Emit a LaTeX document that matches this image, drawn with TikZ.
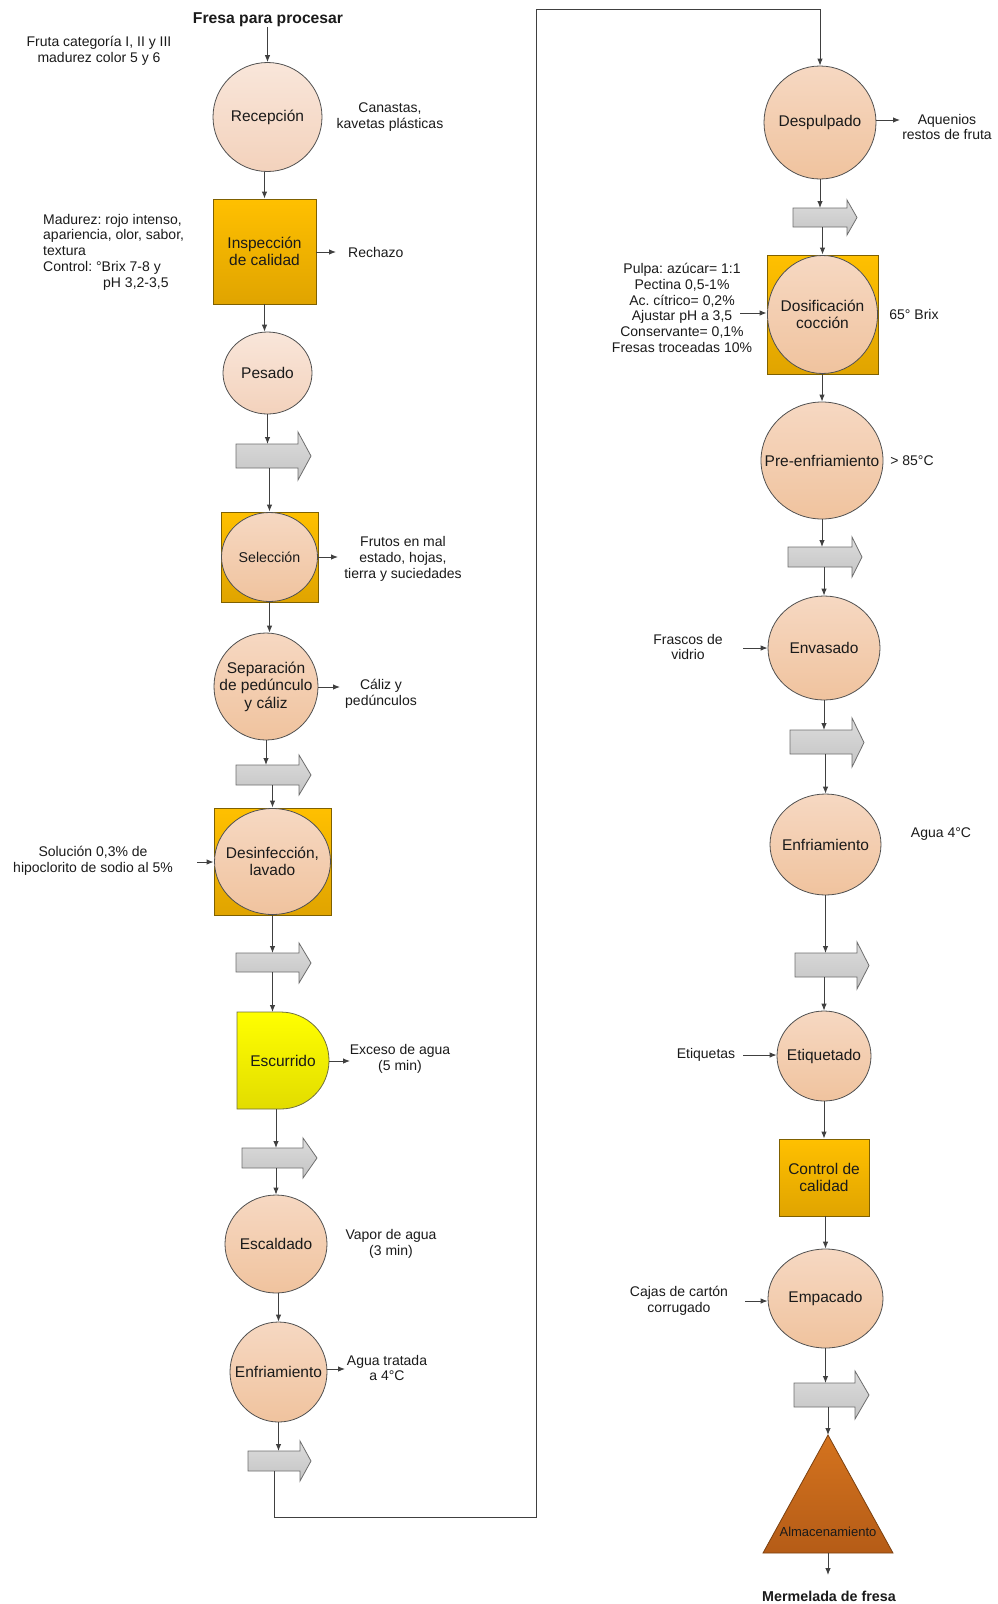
\documentclass[tikz,border=0pt]{standalone}
\usepackage{fontspec}
\setmainfont{Liberation Sans}
\frenchspacing
\usetikzlibrary{shapes.geometric,arrows.meta}
\definecolor{txt}{HTML}{1A1A1A}
\definecolor{ln}{HTML}{404040}
\definecolor{circ}{HTML}{505050}
\definecolor{pT}{HTML}{F6D8C2}
\definecolor{pB}{HTML}{F0C39E}
\definecolor{pTl}{HTML}{F9E6DA}
\definecolor{pBl}{HTML}{F3D2BC}
\definecolor{gT}{HTML}{FFC000}
\definecolor{gB}{HTML}{E0A400}
\definecolor{goldD}{HTML}{7F6000}
\definecolor{grT}{HTML}{DCDCDC}
\definecolor{grB}{HTML}{C4C4C4}
\definecolor{grD}{HTML}{6E6E6E}
\definecolor{yT}{HTML}{FFFF00}
\definecolor{yB}{HTML}{E2DC00}
\definecolor{yD}{HTML}{707040}
\definecolor{tT}{HTML}{D4731E}
\definecolor{tB}{HTML}{B55C17}
\definecolor{tD}{HTML}{7A4010}
\newcommand{\LblFont}{\fontsize{15.5}{17.5}\selectfont}
\newcommand{\NoteFont}{\fontsize{14}{15.7}\selectfont}
\newcommand{\BoldFont}{\fontsize{15.7}{17}\selectfont\bfseries}
\tikzset{
  conn/.style={draw=ln, line width=0.9pt, -{Latex[length=7pt,width=5.5pt]}},
  proc/.style={ellipse, draw=circ, line width=0.8pt, top color=pT, bottom color=pB, inner sep=0pt},
  procl/.style={proc, top color=pTl, bottom color=pBl},
  ptext/.style={text=txt, align=center, inner sep=0pt, font=\LblFont},
  goldbox/.style={rectangle, draw=goldD, line width=0.9pt, top color=gT, bottom color=gB, inner sep=0pt, text=txt, align=center, font=\LblFont},
  note/.style={text=txt, align=center, inner sep=0pt, font=\NoteFont},
  title/.style={text=txt, inner sep=0pt, font=\BoldFont},
  barrow/.style={draw=grD, line width=0.8pt, top color=grT, bottom color=grB},
  hid/.style={inner sep=0pt, outer sep=0pt, draw=none},
}
% name, xLeft, xHead, xTip, yBodyTop, yBodyBottom, yHeadTop, yHeadBottom
\newcommand{\BlkArr}[8]{%
  \path[barrow] (#2,#5) -- (#3,#5) -- (#3,#7) -- (#4,{(#7+#8)/2}) -- (#3,#8) -- (#3,#6) -- (#2,#6) -- cycle;
  \node[hid, minimum width={(#3-#2)*1pt}, minimum height={(#6-#5)*1pt}] (#1) at ({(#2+#3)/2},{(#5+#6)/2}) {};
}
% vertical link at x of target
\newcommand{\VT}[2]{\draw[conn] (#2.north |- #1.south) -- (#2.north);}
% vertical link at x of source
\newcommand{\VS}[2]{\draw[conn] (#1.south) -- (#1.south |- #2.north);}
\begin{document}
\begin{tikzpicture}[x=1pt,y=-1pt]
\useasboundingbox (0,0) rectangle (997,1604);

% ================= LEFT COLUMN =================
\node[title] (start) at (268,20) {Fresa para procesar};
\node[note] (fruta) at (99,51) {Fruta categoría I, II y III\\madurez color 5 y 6};

\node[procl, minimum width=109pt, minimum height=109pt, label={[ptext]center:Recepción}] (rec) at (267.5,117) {};
\node[note] (canastas) at (390,117) {Canastas,\\kavetas plásticas};

\node[goldbox, minimum width=103pt, minimum height=105pt] (insp) at (264.5,251.5) {Inspección\\de calidad};
\coordinate (cRech) at (336,252);
\node[note, anchor=west] (rechazo) at (348,252) {Rechazo};
\node[note, anchor=west, align=left] (madurez) at (43,252) {Madurez: rojo intenso,\\apariencia, olor, sabor,\\textura\\Control: °Brix 7-8 y\\\hspace*{60pt}pH 3,2-3,5};

\node[procl, minimum width=89pt, minimum height=82pt, label={[ptext]center:Pesado}] (pes) at (267.5,373) {};

\BlkArr{b1}{236}{298}{311}{444}{468}{432}{480}

\node[goldbox, minimum width=97pt, minimum height=90pt] (selbox) at (269.5,557) {};
\node[proc, minimum width=96pt, minimum height=89pt, label={[ptext, font=\fontsize{14.2}{16}\selectfont]center:Selección}] (sel) at (269.5,557) {};
\coordinate (cSel) at (338,557);
\node[note] (frutos) at (403,559) {Frutos en mal\\estado, hojas,\\tierra y suciedades};

\node[proc, minimum width=104pt, minimum height=107pt, label={[ptext]center:{Separación\\de pedúnculo\\y cáliz}}] (sep) at (266,686.5) {};
\coordinate (cSep) at (340,687);
\node[note] (caliz) at (381,694) {Cáliz y\\pedúnculos};

\BlkArr{b2}{236}{299}{311}{765}{785}{755}{795}

\node[goldbox, minimum width=117pt, minimum height=107pt] (desbox) at (272.5,861.5) {};
\node[proc, minimum width=116pt, minimum height=106pt, label={[ptext]center:{Desinfección,\\lavado}}] (des) at (272.5,861.5) {};
\coordinate (cSol) at (197,862);
\node[note] (solucion) at (93,861) {Solución 0,3\% de\\hipoclorito de sodio al 5\%};

\BlkArr{b3}{236}{299}{311}{953}{972}{943}{983}

\path[draw=yD, line width=0.8pt, top color=yT, bottom color=yB]
  (237,1012) -- (280.5,1012) .. controls (307.3,1012) and (329,1033.7) .. (329,1060.5)
  .. controls (329,1087.3) and (307.3,1109) .. (280.5,1109) -- (237,1109) -- cycle;
\node[hid, minimum width=92pt, minimum height=97pt, text=txt, font=\LblFont] (esc) at (283,1060.5) {Escurrido};
\coordinate (cEsc) at (350,1061);
\node[note] (exceso) at (400,1059) {Exceso de agua\\(5 min)};

\BlkArr{b4}{242}{303}{317}{1148}{1168}{1138}{1178}

\node[proc, minimum width=102pt, minimum height=98pt, label={[ptext]center:Escaldado}] (escal) at (276,1244) {};
\node[note] (vapor) at (391,1244) {Vapor de agua\\(3 min)};

\node[proc, minimum width=97pt, minimum height=100pt, label={[ptext]center:Enfriamiento}] (enf1) at (278.5,1372) {};
\coordinate (cEnf) at (345,1369);
\node[note] (aguat) at (387,1368) {Agua tratada\\a 4°C};

\BlkArr{b5}{248}{300}{311}{1451}{1471}{1441}{1481}

\coordinate (c2) at (536,1517);
\coordinate (c3) at (536,9.5);

% ================= RIGHT COLUMN =================
\node[proc, minimum width=112pt, minimum height=113pt, label={[ptext]center:Despulpado}] (desp) at (820,122.5) {};
\coordinate (cDesp) at (900,120);
\node[note] (aquenios) at (947,127) {Aquenios\\restos de fruta};

\BlkArr{b6}{793}{847}{857}{208}{227}{200}{235}

\node[goldbox, minimum width=111pt, minimum height=119pt] (dosbox) at (822.5,314.5) {};
\node[proc, minimum width=110pt, minimum height=118pt, label={[ptext]center:{Dosificación\\cocción}}] (dos) at (822.5,314.5) {};
\coordinate (cDos) at (740,313);
\node[note] (pulpa) at (682,308) {Pulpa: azúcar= 1:1\\Pectina 0,5-1\%\\Ac. cítrico= 0,2\%\\Ajustar pH a 3,5\\Conservante= 0,1\%\\Fresas troceadas 10\%};
\node[note] (brix) at (914,314) {65° Brix};

\node[proc, minimum width=122pt, minimum height=117pt, label={[ptext]center:Pre-enfriamiento}] (pre) at (822,460.5) {};
\node[note] (t85) at (912,461) {> 85°C};

\BlkArr{b7}{788}{852}{862}{547}{567}{537}{577}

\node[proc, minimum width=112pt, minimum height=104pt, label={[ptext]center:Envasado}] (env) at (824,648) {};
\coordinate (cFra) at (743,648);
\node[note] (frascos) at (688,647) {Frascos de\\vidrio};

\BlkArr{b8}{790}{852}{864}{730}{754}{718}{767}

\node[proc, minimum width=111pt, minimum height=101pt, label={[ptext]center:Enfriamiento}] (enf2) at (825.5,844.5) {};
\node[note] (agua4) at (941,834) {Agua 4°C};

\BlkArr{b9}{795}{857}{869}{953}{977}{942}{989}

\node[proc, minimum width=94pt, minimum height=90pt, label={[ptext]center:Etiquetado}] (eti) at (824,1056) {};
\coordinate (cEti) at (743,1055);
\node[note] (etiquetas) at (706,1055) {Etiquetas};

\node[goldbox, minimum width=90pt, minimum height=77pt] (ctrl) at (824,1177.5) {Control de\\calidad};

\node[proc, minimum width=115pt, minimum height=99pt, label={[ptext]center:Empacado}] (emp) at (825.5,1298.5) {};
\coordinate (cCaj) at (745,1301);
\node[note] (cajas) at (679,1301) {Cajas de cartón\\corrugado};

\BlkArr{b10}{794}{855}{869}{1383}{1407}{1371}{1419}

\path[draw=tD, line width=0.8pt, top color=tT, bottom color=tB] (828,1435) -- (893,1553) -- (763,1553) -- cycle;
\node[hid, minimum width=130pt, minimum height=118pt] (alm) at (828,1494) {};
\node[text=txt, inner sep=0pt, font=\fontsize{13}{15}\selectfont] (almtxt) at (828,1532) {Almacenamiento};

\node[title, font=\fontsize{14.3}{16}\selectfont\bfseries] (end) at (829,1596) {Mermelada de fresa};
\coordinate (cEnd) at (828,1575);

% ================= CONNECTORS =================
\VT{start}{rec}
\VT{rec}{insp}
\VS{insp}{pes}
\VS{pes}{b1}
\VT{b1}{selbox}
\VS{selbox}{sep}
\VS{sep}{b2}
\VT{b2}{desbox}
\VS{desbox}{b3}
\draw[conn] (b3.south -| desbox.south) -- (esc.north -| desbox.south);
\draw[conn] (esc.south -| escal.north) -- (b4.north -| escal.north);
\VT{b4}{escal}
\VT{escal}{enf1}
\VS{enf1}{b5}
\draw[conn] (b5.south) |- (c2) -- (c3) -| (desp.north);

\draw[conn] (insp.east |- cRech) -- (cRech);
\draw[conn] (selbox.east) -- (cSel);
\draw[conn] (sep.east |- cSep) -- (cSep);
\draw[conn] (esc.east |- cEsc) -- (cEsc);
\draw[conn] (enf1.east |- cEnf) -- (cEnf);
\draw[conn] (cSol) -- (cSol -| desbox.west);

\VS{desp}{b6}
\VT{b6}{dosbox}
\VT{dosbox}{pre}
\VS{pre}{b7}
\VT{b7}{env}
\VS{env}{b8}
\VT{b8}{enf2}
\VS{enf2}{b9}
\VT{b9}{eti}
\VT{eti}{ctrl}
\VT{ctrl}{emp}
\VS{emp}{b10}
\VT{b10}{alm}
\draw[conn] (alm.south) -- (cEnd);

\draw[conn] (desp.east |- cDesp) -- (cDesp);
\draw[conn] (cDos) -- (cDos -| dosbox.west);
\draw[conn] (cFra) -- (cFra -| env.west);
\draw[conn] (cEti) -- (cEti -| eti.west);
\draw[conn] (cCaj) -- (cCaj -| emp.west);
\end{tikzpicture}
\end{document}
